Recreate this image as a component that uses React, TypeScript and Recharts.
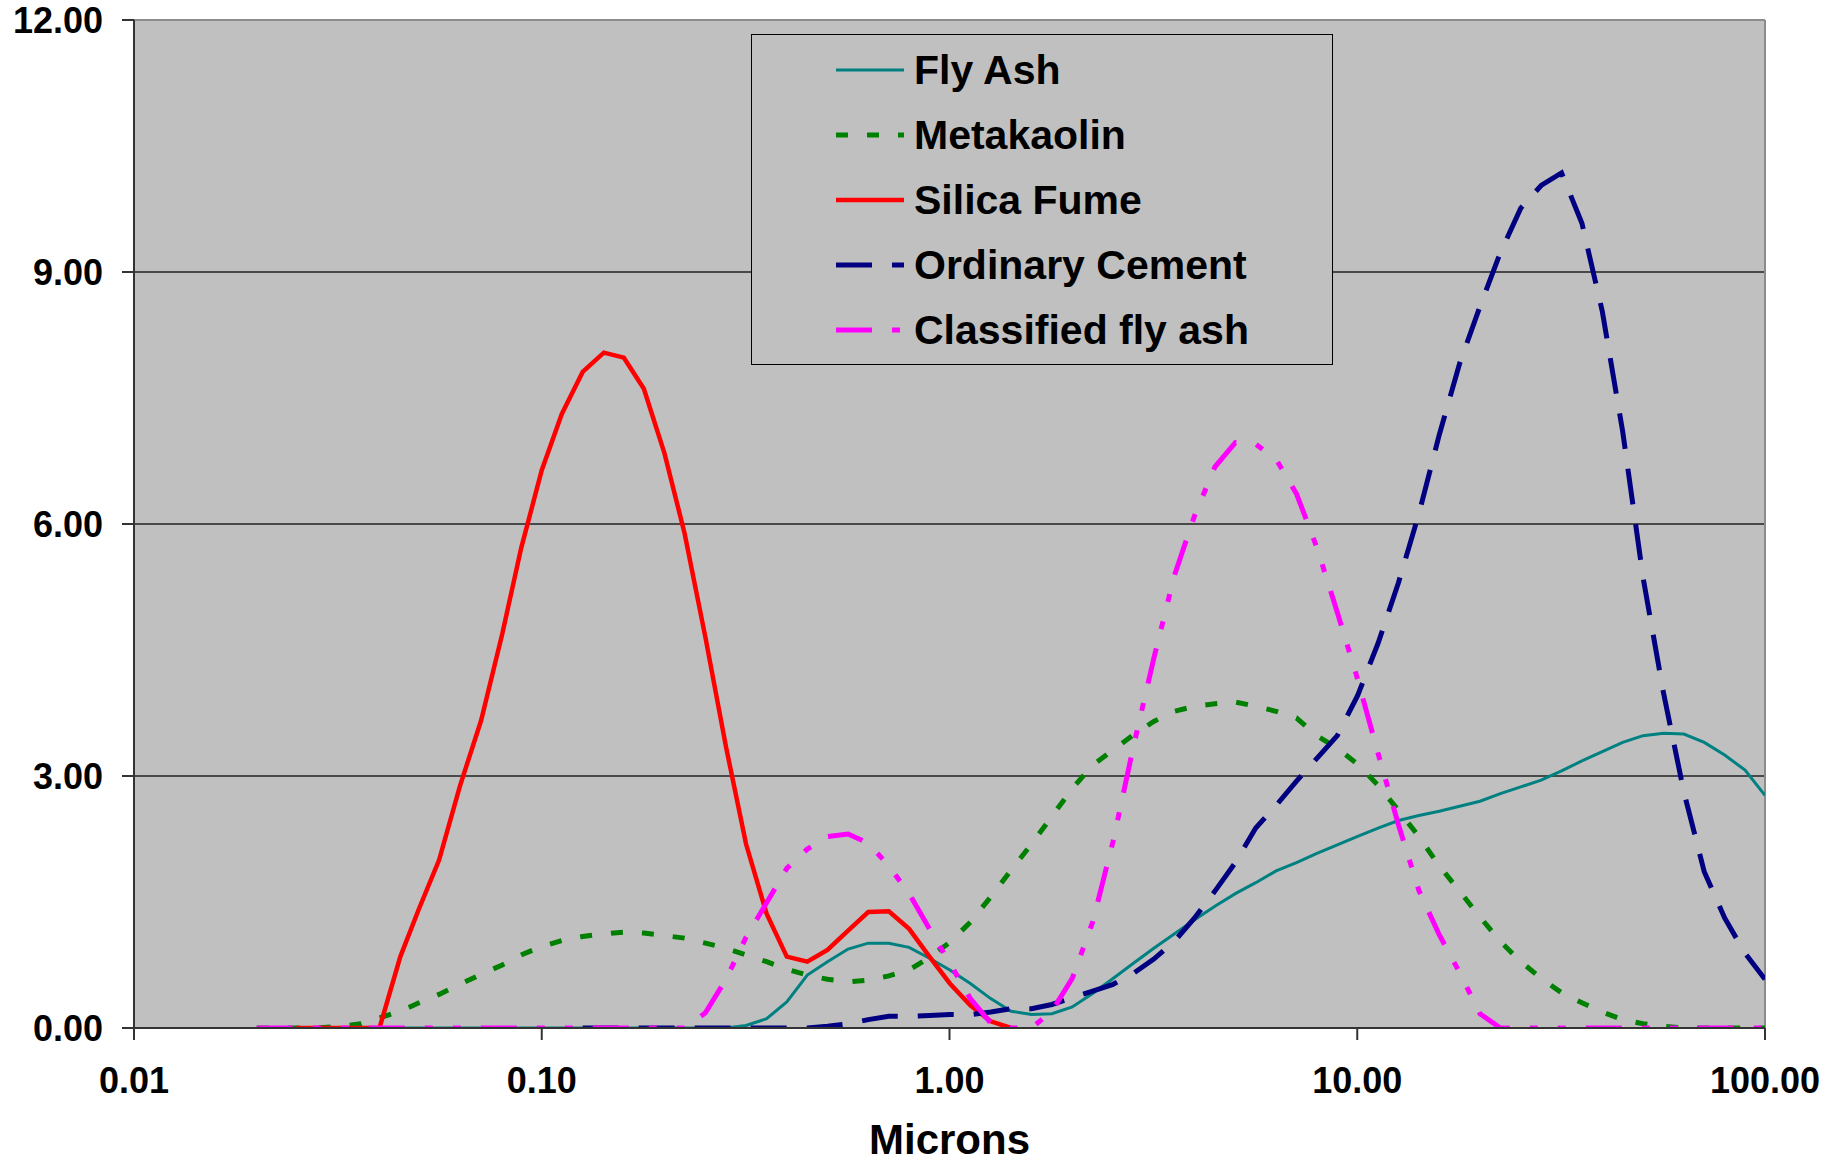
import React from 'react';
import {
  LineChart,
  Line,
  XAxis,
  YAxis,
  CartesianGrid,
  ReferenceLine,
  Legend,
  Label,
} from 'recharts';

// Particle size grid (microns)
const microns = [
  0.02, 0.022, 0.025, 0.028, 0.032, 0.036, 0.04, 0.045, 0.05, 0.056,
  0.063, 0.071, 0.08, 0.089, 0.1, 0.112, 0.126, 0.142, 0.159, 0.178,
  0.2, 0.224, 0.252, 0.283, 0.317, 0.356, 0.399, 0.448, 0.502, 0.564,
  0.632, 0.71, 0.796, 0.893, 1.002, 1.125, 1.262, 1.416, 1.589, 1.783,
  2.0, 2.244, 2.518, 2.825, 3.17, 3.557, 3.991, 4.477, 5.024, 5.637,
  6.325, 7.096, 7.962, 8.934, 10.024, 11.247, 12.619, 14.159, 15.887, 17.825,
  20.0, 22.44, 25.179, 28.251, 31.698, 35.566, 39.905, 44.774, 50.238, 56.368,
  63.246, 70.963, 79.621, 89.337, 100.0,
];

const flyAsh = [
  0, 0, 0, 0, 0, 0, 0, 0, 0, 0,
  0, 0, 0, 0, 0, 0, 0, 0, 0, 0,
  0, 0, 0, 0, 0.03, 0.11, 0.31, 0.63, 0.79, 0.94,
  1.01, 1.01, 0.96, 0.83, 0.69, 0.53, 0.35, 0.2, 0.16, 0.17,
  0.25, 0.41, 0.59, 0.77, 0.95, 1.12, 1.29, 1.45, 1.6, 1.73,
  1.87, 1.97, 2.08, 2.18, 2.28, 2.38, 2.47, 2.53, 2.58, 2.64,
  2.7, 2.79, 2.87, 2.95, 3.06, 3.18, 3.29, 3.4, 3.48, 3.51,
  3.5, 3.4, 3.25, 3.07, 2.77,
];

const metakaolin = [
  0, 0, 0, 0, 0.02, 0.05, 0.12, 0.2, 0.3, 0.4,
  0.52, 0.64, 0.75, 0.87, 0.97, 1.04, 1.09, 1.12, 1.14, 1.13,
  1.1, 1.07, 1.01, 0.95, 0.87, 0.79, 0.7, 0.63, 0.58, 0.55,
  0.57, 0.62, 0.69, 0.84, 1.02, 1.26, 1.56, 1.88, 2.19, 2.52,
  2.85, 3.13, 3.31, 3.49, 3.65, 3.77, 3.83, 3.86, 3.88, 3.83,
  3.77, 3.69, 3.48, 3.33, 3.14, 2.89, 2.59, 2.28, 1.93, 1.63,
  1.32, 1.03, 0.79, 0.59, 0.42, 0.3, 0.19, 0.1, 0.05, 0.02,
  0, 0, 0, 0, 0,
];

const silicaFume = [
  null, null, 0, 0, 0, 0, 0, 0.85, 1.42, 2.0,
  2.88, 3.66, 4.69, 5.71, 6.64, 7.31, 7.81, 8.04, 7.98, 7.61,
  6.84, 5.89, 4.65, 3.35, 2.19, 1.36, 0.85, 0.79, 0.93, 1.16,
  1.38, 1.39, 1.18, 0.85, 0.53, 0.27, 0.08, 0, null, null,
  null, null, null, null, null, null, null, null, null, null,
  null, null, null, null, null, null, null, null, null, null,
  null, null, null, null, null, null, null, null, null, null,
  null, null, null, null, null,
];

const ordinaryCement = [
  null, null, null, null, null, null, null, null, null, null,
  null, null, null, null, null, null, 0, 0, 0, 0,
  0, 0, 0, 0, 0, 0, 0, 0, 0.02, 0.05,
  0.1, 0.14, 0.14, 0.15, 0.16, 0.16, 0.19, 0.23, 0.23, 0.28,
  0.36, 0.44, 0.52, 0.65, 0.82, 1.03, 1.31, 1.63, 1.97, 2.38,
  2.65, 2.94, 3.21, 3.48, 3.96, 4.58, 5.3, 6.12, 7.06, 7.91,
  8.59, 9.23, 9.76, 10.03, 10.18, 9.58, 8.53, 7.1, 5.36, 3.99,
  2.81, 1.86, 1.31, 0.89, 0.58,
];

const classifiedFlyAsh = [
  0, 0, 0, 0, 0, 0, 0, 0, 0, 0,
  0, 0, 0, 0, 0, 0, 0, 0, 0, 0,
  0, 0, 0.18, 0.58, 1.08, 1.49, 1.9, 2.13, 2.28, 2.31,
  2.2, 1.93, 1.6, 1.18, 0.77, 0.35, 0.06, 0, 0, 0.2,
  0.59, 1.26, 2.22, 3.35, 4.4, 5.38, 6.1, 6.68, 6.97, 6.95,
  6.77, 6.36, 5.72, 4.95, 4.15, 3.27, 2.42, 1.64, 1.11, 0.66,
  0.17, 0, 0, 0, 0, 0, 0, 0, 0, 0,
  0, 0, 0, 0, 0,
];

const xTicks = [0.01, 0.1, 1, 10, 100];
const yTicks = [0, 3, 6, 9, 12];

const seriesNames = ['Fly Ash', 'Metakaolin', 'Silica Fume', 'Ordinary Cement', 'Classified fly ash'];
const seriesKeys = ['flyAsh', 'metakaolin', 'silicaFume', 'ordinaryCement', 'classifiedFlyAsh'];

const seriesStyle = [
  { color: '#008080', width: 3, dash: undefined as string | undefined },
  { color: '#008000', width: 5, dash: '12 19' },
  { color: '#FF0000', width: 4.5, dash: undefined },
  { color: '#000080', width: 5, dash: '36 20' },
  { color: '#FF00FF', width: 5, dash: '36 20 8 20 8 20' },
];

const rows = microns.map((x, i) => ({
  x,
  flyAsh: flyAsh[i],
  metakaolin: metakaolin[i],
  silicaFume: silicaFume[i],
  ordinaryCement: ordinaryCement[i],
  classifiedFlyAsh: classifiedFlyAsh[i],
}));

const FONT = '"Liberation Sans", Arial, Helvetica, sans-serif';
const fmt = (v: number) => Number(v).toFixed(2);

const LegendBox = () => (
  <div
    style={{
      position: 'relative',
      boxSizing: 'border-box',
      width: 582,
      height: 331,
      border: '1.5px solid #000',
      background: '#C0C0C0',
      fontFamily: FONT,
    }}
  >
    {seriesNames.map((name, i) => {
      const cy = 35 + 65 * i;
      const st = seriesStyle[i];
      return (
        <div key={name}>
          <svg
            width={70}
            height={12}
            style={{ position: 'absolute', left: 84, top: cy - 6, overflow: 'visible' }}
          >
            <line
              x1={0}
              y1={6}
              x2={68}
              y2={6}
              stroke={st.color}
              strokeWidth={st.width}
              strokeDasharray={st.dash}
            />
          </svg>
          <div
            style={{
              position: 'absolute',
              left: 162,
              top: cy - 25,
              height: 50,
              lineHeight: '50px',
              fontSize: 41,
              fontWeight: 700,
              color: '#000',
              whiteSpace: 'nowrap',
            }}
          >
            {name}
          </div>
        </div>
      );
    })}
  </div>
);

export default function App() {
  const tickStyle = { fill: '#000', fontSize: 36, fontWeight: 700, fontFamily: FONT };
  return (
    <div style={{ position: 'absolute', left: 0, top: 0, width: 1827, height: 1164, background: '#fff' }}>
      <LineChart
        width={1827}
        height={1164}
        data={rows}
        margin={{ top: 20, right: 62, bottom: 0, left: 0 }}
      >
        <CartesianGrid
          vertical={false}
          stroke="#222"
          strokeWidth={1.3}
          fill="#C0C0C0"
          fillOpacity={1}
        />
        <XAxis
          dataKey="x"
          type="number"
          scale="log"
          domain={[0.01, 100]}
          ticks={xTicks}
          interval={0}
          allowDataOverflow
          height={136}
          tickFormatter={fmt}
          tick={tickStyle}
          tickSize={12}
          tickMargin={27}
          axisLine={{ stroke: '#333', strokeWidth: 2 }}
          tickLine={{ stroke: '#333', strokeWidth: 2 }}
        >
          <Label
            value="Microns"
            position="insideBottom"
            offset={10}
            fontSize={42}
            fontWeight="bold"
            fill="#000"
            fontFamily={FONT}
          />
        </XAxis>
        <YAxis
          type="number"
          domain={[0, 12]}
          ticks={yTicks}
          interval={0}
          allowDataOverflow
          width={134}
          tickFormatter={fmt}
          tick={tickStyle}
          tickSize={12}
          tickMargin={19}
          axisLine={{ stroke: '#333', strokeWidth: 2 }}
          tickLine={{ stroke: '#333', strokeWidth: 2 }}
        />
        <ReferenceLine y={12} stroke="#8C8C8C" strokeWidth={2} />
        <ReferenceLine x={100} stroke="#8C8C8C" strokeWidth={2} />
        {seriesKeys.map((k, i) => (
          <Line
            key={k}
            type="linear"
            dataKey={k}
            name={seriesNames[i]}
            stroke={seriesStyle[i].color}
            strokeWidth={seriesStyle[i].width}
            strokeDasharray={seriesStyle[i].dash}
            dot={false}
            activeDot={false}
            connectNulls={false}
            isAnimationActive={false}
          />
        ))}
        <Legend
          layout="vertical"
          align="center"
          verticalAlign="middle"
          content={() => <LegendBox />}
          wrapperStyle={{ position: 'absolute', left: 751, top: 34, width: 582, height: 331, margin: 0, padding: 0 }}
        />
      </LineChart>
    </div>
  );
}
